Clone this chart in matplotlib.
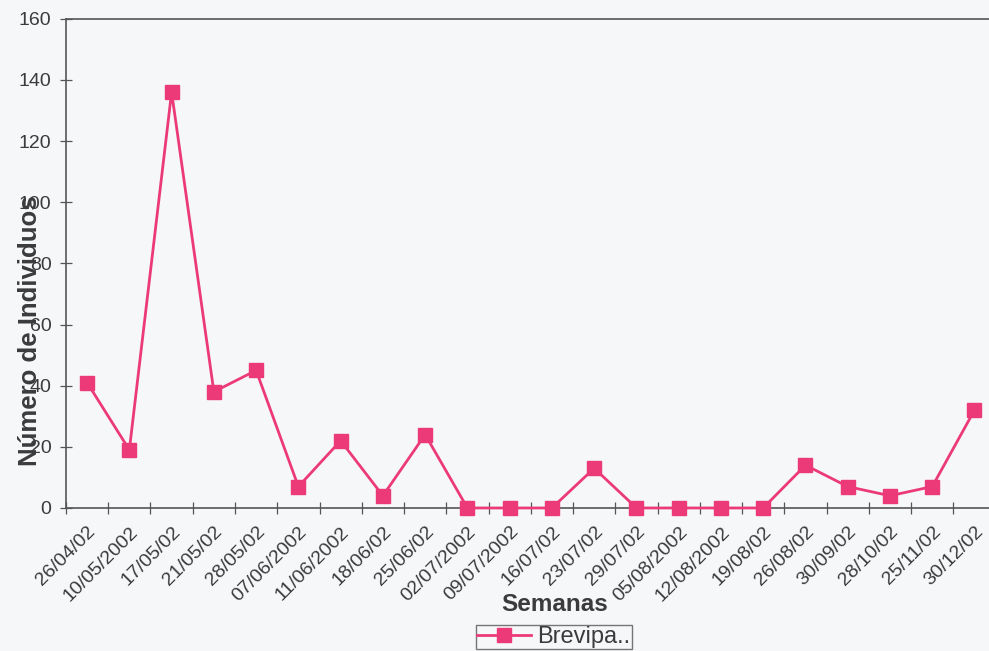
import matplotlib
matplotlib.use("Agg")
import matplotlib.pyplot as plt
import numpy as np

weeks = ["26/04/02", "10/05/2002", "17/05/02", "21/05/02", "28/05/02",
         "07/06/2002", "11/06/2002", "18/06/02", "25/06/02", "02/07/2002",
         "09/07/2002", "16/07/02", "23/07/02", "29/07/02", "05/08/2002",
         "12/08/2002", "19/08/02", "26/08/02", "30/09/02", "28/10/02",
         "25/11/02", "30/12/02"]
brevipa = [41, 19, 136, 38, 45, 7, 22, 4, 24, 0, 0, 0, 13, 0, 0, 0, 0,
           14, 7, 4, 7, 32]
y_ticks = [0, 20, 40, 60, 80, 100, 120, 140, 160]

plt.rcParams['font.family'] = ['Liberation Sans', 'DejaVu Sans']
text_col = '#3b3b3e'
line_col = '#ec3a78'
bg = '#f6f7f9'

fig = plt.figure(figsize=(9.89, 6.51), dpi=100, facecolor=bg)
ax = fig.add_axes([0.0667, 0.2197, 0.94, 0.7515], facecolor=bg)

x = np.arange(len(weeks))
ax.plot(x, brevipa, color=line_col, lw=2.0, marker='s', markersize=10,
        markerfacecolor=line_col, markeredgecolor=line_col, label='Brevipa..',
        clip_on=False, zorder=3)

ax.set_xlim(-0.5, len(weeks) - 0.5)
ax.set_ylim(0, 160)
ax.set_yticks(y_ticks)
ax.set_yticklabels([str(v) for v in y_ticks])

# category labels at centers, tick marks at boundaries
ax.set_xticks(x)
ax.set_xticklabels(weeks, rotation=45, ha='right', va='top',
                   rotation_mode='anchor')
ax.set_xticks(np.arange(-0.5, len(weeks)), minor=True)
ax.tick_params(axis='x', which='major', length=0, pad=11,
               labelsize=14, labelcolor=text_col)
ax.tick_params(axis='x', which='minor', direction='inout', length=9,
               width=0.9, color='#555555')
ax.tick_params(axis='y', direction='inout', length=9, width=0.9,
               color='#555555', labelsize=14, labelcolor=text_col, pad=6)

for side in ['left', 'bottom', 'top']:
    ax.spines[side].set_color('#555555')
    ax.spines[side].set_linewidth(1.2)
ax.spines['right'].set_visible(False)

fig.text(0.030, 0.492, 'Número de Individuos', rotation=90, ha='center',
         va='center', fontsize=18.5, fontweight='bold', color=text_col)
fig.text(0.561, 0.071, 'Semanas', ha='center', va='center',
         fontsize=17.5, fontweight='bold', color=text_col)

leg = fig.legend(loc='center', bbox_to_anchor=(0.56, 0.0215), fontsize=17,
                 frameon=True, fancybox=False, borderpad=0.05,
                 handlelength=2.3, handletextpad=0.25, borderaxespad=0)
leg.get_frame().set_edgecolor('#555555')
leg.get_frame().set_facecolor(bg)
leg.get_frame().set_linewidth(1.0)
for t in leg.get_texts():
    t.set_color(text_col)

fig.savefig('out.png', dpi=100, facecolor=bg)
